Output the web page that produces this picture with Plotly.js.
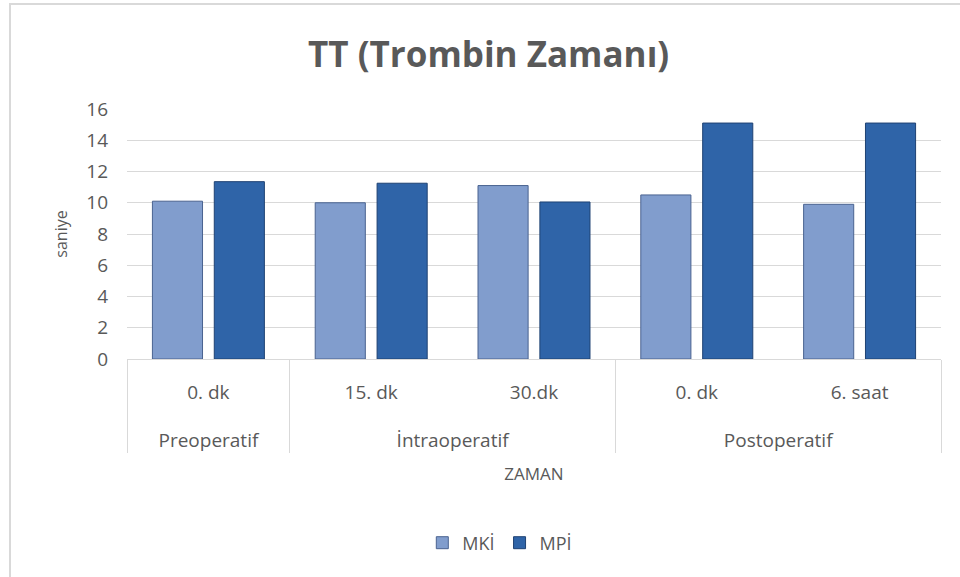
<!DOCTYPE html>
<html>
<head>
<meta charset="utf-8">
<script src="https://cdn.plot.ly/plotly-3.0.1.min.js"></script>
<style>
  html, body { margin: 0; padding: 0; background: #fff; }
  #wrap { position: relative; width: 960px; height: 577px; overflow: hidden; }
  #chart { width: 960px; height: 577px; }
  #frame { position: absolute; left: 9px; top: 3px; right: -5px; bottom: -5px;
           border-left: 2px solid #d9d9d9; border-top: 2px solid #d9d9d9; pointer-events: none; }
</style>
</head>
<body>
<div id="wrap"><div id="chart"></div><div id="frame"></div></div>
<script>
const phases = ["Preoperatif", "İntraoperatif", "İntraoperatif", "Postoperatif", "Postoperatif"];
const times = ["0. dk", "15. dk", "30.dk", "0. dk", "6. saat"];
const mki = [10.1, 10.0, 11.1, 10.5, 9.9];
const mpi = [11.35, 11.25, 10.05, 15.1, 15.1];
const yTicks = [0, 2, 4, 6, 8, 10, 12, 14, 16];

const font = "'Open Sans', Lato, sans-serif";
const grey = "#595959";

// a blank spacer line under the first label row spreads the two rows apart
const spacer = "<br><span style='font-size:46px'> </span>";
const xCats = [phases, times.map(t => t + spacer)];

const traces = [
  { type: "bar", name: "MKİ", x: xCats, y: mki,
    marker: { color: "#819dcd", line: { color: "#4a6390", width: 1 } } },
  { type: "bar", name: "MPİ", x: xCats, y: mpi,
    marker: { color: "#2f64a8", line: { color: "#1f4273", width: 1 } } }
];

const layout = {
  width: 960, height: 577,
  paper_bgcolor: "#fff", plot_bgcolor: "#fff",
  margin: { l: 127, r: 19, t: 109, b: 218 },
  title: { text: "TT (Trombin Zamanı)", x: 0.509, xanchor: "center", y: 0.905, yanchor: "middle",
           font: { family: font, size: 35, color: grey, weight: "bold" } },
  barmode: "group", bargap: 0.24, bargroupgap: 0.19,
  showlegend: true,
  legend: { orientation: "h", x: 0.458, xanchor: "center", y: -0.736, yanchor: "middle",
            font: { family: font, size: 18, color: grey }, itemwidth: 30 },
  xaxis: {
    type: "multicategory",
    showdividers: true, dividercolor: "#d9d9d9", dividerwidth: 1,
    tickfont: { family: font, size: 19, color: grey },
    ticklabelstandoff: 16,
    showline: true, linecolor: "#d9d9d9", linewidth: 1,
    ticks: "", showgrid: false,
    title: { text: "ZAMAN", font: { family: font, size: 17, color: grey }, standoff: 16 }
  },
  yaxis: {
    range: [0, 16], tickvals: yTicks, ticktext: yTicks.map(String),
    showgrid: true, gridcolor: "#d9d9d9", gridwidth: 1,
    zeroline: false, showline: false, ticks: "",
    ticklabelstandoff: 18,
    tickfont: { family: font, size: 19, color: grey },
    title: { text: "saniye", font: { family: font, size: 16, color: grey }, standoff: 14 }
  }
};

Plotly.newPlot("chart", traces, layout, { displayModeBar: false, staticPlot: true });
</script>
</body>
</html>
